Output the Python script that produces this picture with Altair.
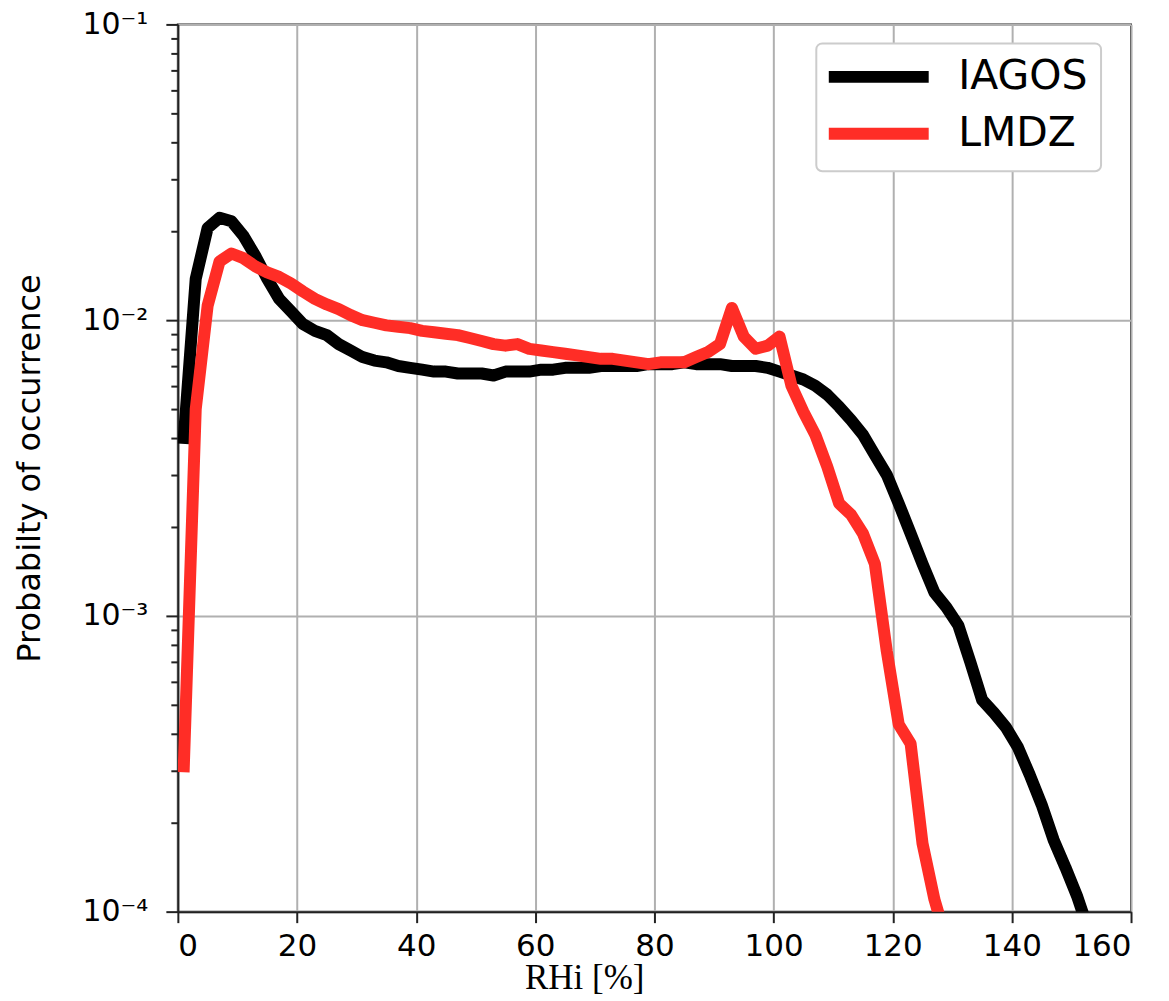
import altair as alt
import pandas as pd

# ---- data ----
IAGOS_X = list(range(1, 154, 2))
IAGOS_Y = [0.0040, 0.0138, 0.0205, 0.0222, 0.0216, 0.0193, 0.0165, 0.0138, 0.0118, 0.0107,
           0.0097, 0.0092, 0.0089, 0.0083, 0.0079, 0.0075, 0.0073, 0.0072, 0.0070, 0.0069,
           0.0068, 0.0067, 0.0067, 0.0066, 0.0066, 0.0066, 0.0065, 0.0067, 0.0067, 0.0067,
           0.0068, 0.0068, 0.0069, 0.0069, 0.0069, 0.0070, 0.0070, 0.0070, 0.0070, 0.0071,
           0.0071, 0.0071, 0.0072, 0.0071, 0.0071, 0.0071, 0.0070, 0.0070, 0.0070, 0.0069,
           0.0067, 0.0065, 0.0063, 0.0060, 0.0056, 0.0051, 0.0046, 0.0041, 0.0035, 0.0030,
           0.0024, 0.0019, 0.0015, 0.00120, 0.00107, 0.00093, 0.00070, 0.00052, 0.00047, 0.00042,
           0.00036, 0.00029, 0.00023, 0.000175, 0.000141, 0.000112, 0.000085]

LMDZ_X = list(range(1, 130, 2))
LMDZ_Y = [0.00031, 0.0050, 0.0112, 0.0158, 0.0168, 0.0162, 0.0152, 0.0145, 0.0140, 0.0133,
          0.0125, 0.0118, 0.0113, 0.0109, 0.0104, 0.0100, 0.0098, 0.0096, 0.0095, 0.0094,
          0.0092, 0.0091, 0.0090, 0.0089, 0.0087, 0.0085, 0.0083, 0.0082, 0.0083, 0.0080,
          0.0079, 0.0078, 0.0077, 0.0076, 0.0075, 0.0074, 0.0074, 0.0073, 0.0072, 0.0071,
          0.0072, 0.0072, 0.0072, 0.0075, 0.0078, 0.0083, 0.0110, 0.0088, 0.0080, 0.0082,
          0.0088, 0.0060, 0.0049, 0.0041, 0.0032, 0.0024, 0.0022, 0.0019, 0.0015, 0.00076,
          0.00043, 0.00037, 0.00017, 0.00011, 0.00008]

SERIES = ["IAGOS", "LMDZ"]
COLORS = ["#000000", "#ff2d26"]
X_TICKS = [0, 20, 40, 60, 80, 100, 120, 140, 160]
Y_TICKS = [1e-4, 2e-4, 3e-4, 4e-4, 5e-4, 6e-4, 7e-4, 8e-4, 9e-4,
           1e-3, 2e-3, 3e-3, 4e-3, 5e-3, 6e-3, 7e-3, 8e-3, 9e-3,
           1e-2, 2e-2, 3e-2, 4e-2, 5e-2, 6e-2, 7e-2, 8e-2, 9e-2, 1e-1]

assert len(IAGOS_X) == len(IAGOS_Y)
assert len(LMDZ_X) == len(LMDZ_Y)

df = pd.concat([
    pd.DataFrame({"x": IAGOS_X, "y": IAGOS_Y, "series": "IAGOS", "order": 0}),
    pd.DataFrame({"x": LMDZ_X, "y": LMDZ_Y, "series": "LMDZ", "order": 1}),
], ignore_index=True)

DECADE = "abs(log(datum.value)/LN10 - round(log(datum.value)/LN10)) < 0.001"
LABEL_EXPR = ("datum.value > 0.095 && datum.value < 0.105 ? '10⁻¹' : "
              "datum.value > 0.0095 && datum.value < 0.0105 ? '10⁻²' : "
              "datum.value > 0.00095 && datum.value < 0.00105 ? '10⁻³' : "
              "datum.value > 0.000095 && datum.value < 0.000105 ? '10⁻⁴' : ''")

chart = alt.Chart(df).mark_line(
    clip=True, strokeWidth=12, strokeCap="square", strokeJoin="round"
).encode(
    x=alt.X("x:Q",
            scale=alt.Scale(domain=[0, 160], nice=False, zero=False),
            axis=alt.Axis(values=X_TICKS, title="RHi [%]", format="d",
                          labelFontSize=31, labelPadding=9, tickSize=11,
                          titleFont="Liberation Serif", titleFontSize=35,
                          titleFontWeight="normal",
                          titleX=347, titleY=77, titleBaseline="alphabetic",
                          titleAlign="left")),
    y=alt.Y("y:Q",
            scale=alt.Scale(type="log", domain=[1e-4, 1e-1], nice=False),
            axis=alt.Axis(values=Y_TICKS, title="Probabilty of occurrence",
                          labelExpr=LABEL_EXPR, labelFontSize=30, labelPadding=18,
                          labelBaseline="middle",
                          tickSize={"condition": {"test": DECADE, "value": 12}, "value": 7},
                          gridOpacity={"condition": {"test": DECADE, "value": 1}, "value": 0},
                          titleFontSize=32, titleFontWeight="normal",
                          titleX=-148, titleY=444, titleBaseline="middle",
                          titleAngle=-90, titleAlign="center")),
    color=alt.Color("series:N",
                    scale=alt.Scale(domain=SERIES, range=COLORS),
                    legend=alt.Legend(title=None, orient="none", legendX=639, legendY=19,
                                      symbolType="M-1.68,0H6.32", symbolSize=625,
                                      symbolStrokeWidth=12, labelFontSize=41,
                                      labelOffset=88, rowPadding=8, padding=13,
                                      strokeColor="#cccccc", fillColor="white",
                                      cornerRadius=6)),
    order=alt.Order("order:Q"),
    detail="series:N",
).properties(
    width=954,
    height=888,
    autosize=alt.AutoSizeParams(type="none"),
    padding={"left": 170, "top": 16, "right": 30, "bottom": 89},
).configure(
    font="DejaVu Sans",
).configure_axis(
    labelFont="DejaVu Sans",
    titleFont="DejaVu Sans",
    labelColor="#000000",
    titleColor="#000000",
    domainColor="#222222",
    domainWidth=2,
    tickColor="#222222",
    tickWidth=2,
    gridColor="#b0b0b0",
    gridWidth=2,
    grid=True,
).configure_view(
    stroke="#222222",
    strokeWidth=2,
).configure_legend(
    labelFont="DejaVu Sans",
    labelColor="#000000",
    strokeWidth=2,
)

chart.save("out.html", embed_options={"renderer": "svg", "actions": False})
